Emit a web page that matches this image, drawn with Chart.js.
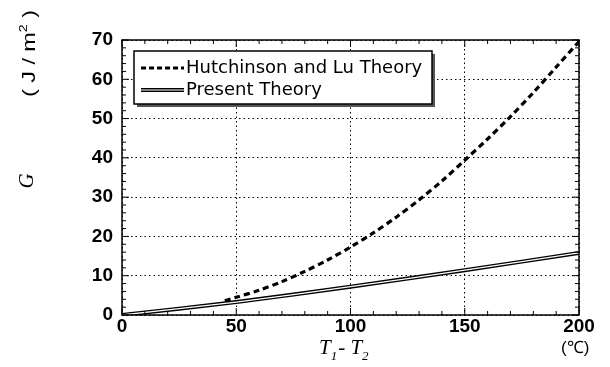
<!DOCTYPE html>
<html>
<head>
<meta charset="utf-8">
<script src="https://cdn.jsdelivr.net/npm/chart.js@4"></script>
<style>
  html, body { margin: 0; padding: 0; background: #fff; }
  #wrap { width: 610px; height: 367px; }
</style>
</head>
<body>
<div id="wrap"><canvas id="chart" width="610" height="367"></canvas></div>
<script>
// temperature difference T1 - T2 (deg C) and energy release rate G (J/m^2)
const hlTemp = [45, 50, 60, 70, 80, 90, 100, 110, 120, 130, 140, 150, 160, 170, 180, 190, 200];
const hlG = [3.6, 4.5, 6.3, 8.5, 11.1, 14.0, 17.3, 20.9, 24.9, 29.3, 34.1, 39.4, 44.8, 50.5, 56.6, 63.1, 69.6];
const presentTemp = [0, 50, 100, 150, 200];
const presentG = [0, 3.3, 7.2, 11.4, 15.8];
const legendNames = ["Hutchinson and Lu Theory", "Present Theory"];

const toPts = (xs, ys) => xs.map((x, i) => ({ x: x, y: ys[i] }));

// frame, inward minor ticks, legend box and axis titles
const decor = {
  id: "decor",
  afterDatasetsDraw(chart) {
    const ctx = chart.ctx;
    const a = chart.chartArea;
    const xs = chart.scales.x;
    const ys = chart.scales.y;
    ctx.save();
    ctx.strokeStyle = "#000";
    ctx.lineWidth = 1.5;
    ctx.strokeRect(a.left, a.top, a.right - a.left, a.bottom - a.top);

    ctx.lineWidth = 1;
    ctx.beginPath();
    for (let v = 0; v <= 200; v += 10) {
      const px = xs.getPixelForValue(v);
      const len = v % 50 == 0 ? 7 : 4;
      ctx.moveTo(px, a.bottom); ctx.lineTo(px, a.bottom - len);
      ctx.moveTo(px, a.top); ctx.lineTo(px, a.top + len);
    }
    for (let v = 0; v <= 70; v += 2) {
      const py = ys.getPixelForValue(v);
      const len = v % 10 == 0 ? 7 : 4;
      ctx.moveTo(a.left, py); ctx.lineTo(a.left + len, py);
      ctx.moveTo(a.right, py); ctx.lineTo(a.right - len, py);
    }
    ctx.stroke();

    // legend
    const bx = 134, by = 51, bw = 298, bh = 53;
    ctx.fillStyle = "#555";
    ctx.fillRect(bx + 3, by + 3, bw, bh);
    ctx.fillStyle = "#fff";
    ctx.fillRect(bx, by, bw, bh);
    ctx.lineWidth = 1.5;
    ctx.strokeStyle = "#000";
    ctx.strokeRect(bx, by, bw, bh);

    ctx.lineWidth = 3;
    ctx.setLineDash([5, 3]);
    ctx.beginPath(); ctx.moveTo(141, 68); ctx.lineTo(184, 68); ctx.stroke();
    ctx.setLineDash([]);
    ctx.lineWidth = 4;
    ctx.beginPath(); ctx.moveTo(141, 90); ctx.lineTo(184, 90); ctx.stroke();
    ctx.strokeStyle = "#fff";
    ctx.lineWidth = 1.2;
    ctx.beginPath(); ctx.moveTo(141, 90); ctx.lineTo(184, 90); ctx.stroke();

    ctx.fillStyle = "#000";
    ctx.font = "500 18px 'DejaVu Sans'";
    ctx.textBaseline = "middle";
    ctx.textAlign = "left";
    ctx.fillText(legendNames[0], 186, 68);
    ctx.fillText(legendNames[1], 186, 90);

    // y title
    ctx.textBaseline = "alphabetic";
    ctx.save();
    ctx.translate(33, 181);
    ctx.rotate(-Math.PI / 2);
    ctx.font = "italic 21px 'Liberation Serif'";
    ctx.textAlign = "center";
    ctx.fillText("G", 0, 0);
    ctx.restore();

    ctx.save();
    ctx.translate(35, 97);
    ctx.rotate(-Math.PI / 2);
    ctx.textAlign = "left";
    ctx.font = "18px 'Liberation Sans'";
    const p1 = "( J / m";
    const p3 = " )";
    const w1 = ctx.measureText(p1).width;
    ctx.font = "11px 'Liberation Sans'";
    const w2 = ctx.measureText("2").width;
    ctx.font = "18px 'Liberation Sans'";
    const w3 = ctx.measureText(p3).width;
    const s = 87 / (w1 + w2 + w3);
    ctx.scale(s, 1);
    ctx.fillText(p1, 0, 0);
    ctx.fillText(p3, w1 + w2, 0);
    ctx.font = "11px 'Liberation Sans'";
    ctx.fillText("2", w1, -8);
    ctx.restore();

    // x title: T1 - T2
    ctx.textAlign = "left";
    const big = "italic 21px 'Liberation Serif'";
    const sub = "italic 13px 'Liberation Serif'";
    let tx = 319;
    const parts = [["T", big, 0], ["1", sub, 6], ["- T", big, 0], ["2", sub, 6]];
    parts.forEach(([t, f, dy]) => {
      ctx.font = f;
      ctx.fillText(t, tx, 354 + dy);
      tx += ctx.measureText(t).width + (t == "1" ? 1 : 0);
    });
    ctx.font = "17px 'Liberation Sans'";
    ctx.fillText("(℃)", 561, 353);
    ctx.restore();
  }
};

new Chart(document.getElementById("chart").getContext("2d"), {
  type: "line",
  data: {
    datasets: [
      {
        label: legendNames[0],
        data: toPts(hlTemp, hlG),
        borderColor: "#000",
        borderWidth: 3.2,
        borderDash: [6, 4],
        pointRadius: 0,
        tension: 0.3,
        order: 3,
      },
      {
        label: legendNames[1],
        data: toPts(presentTemp, presentG),
        borderColor: "#000",
        borderWidth: 4,
        pointRadius: 0,
        tension: 0.3,
        order: 2,
      },
      {
        label: "inner",
        data: toPts(presentTemp, presentG),
        borderColor: "#fff",
        borderWidth: 1.3,
        pointRadius: 0,
        tension: 0.3,
        order: 1,
      },
    ],
  },
  options: {
    responsive: false,
    animation: false,
    layout: { padding: { top: 40, right: 31, left: 0, bottom: 0 } },
    plugins: { legend: { display: false }, tooltip: { enabled: false } },
    scales: {
      x: {
        type: "linear",
        min: 0,
        max: 200,
        ticks: { stepSize: 50, color: "#000", font: { family: "Liberation Sans", size: 19, weight: "bold" }, padding: 0 },
        grid: { color: "#000", lineWidth: 1, drawTicks: false },
        border: { dash: [1.5, 3], display: false },
        afterFit(scale) { scale.height = 52; },
      },
      y: {
        min: 0,
        max: 70,
        ticks: { stepSize: 10, color: "#000", font: { family: "Liberation Sans", size: 19, weight: "bold" }, padding: 9 },
        grid: { color: "#000", lineWidth: 1, drawTicks: false },
        border: { dash: [1.5, 3], display: false },
        afterFit(scale) { scale.width = 122; },
      },
    },
  },
  plugins: [decor],
});
</script>
</body>
</html>
